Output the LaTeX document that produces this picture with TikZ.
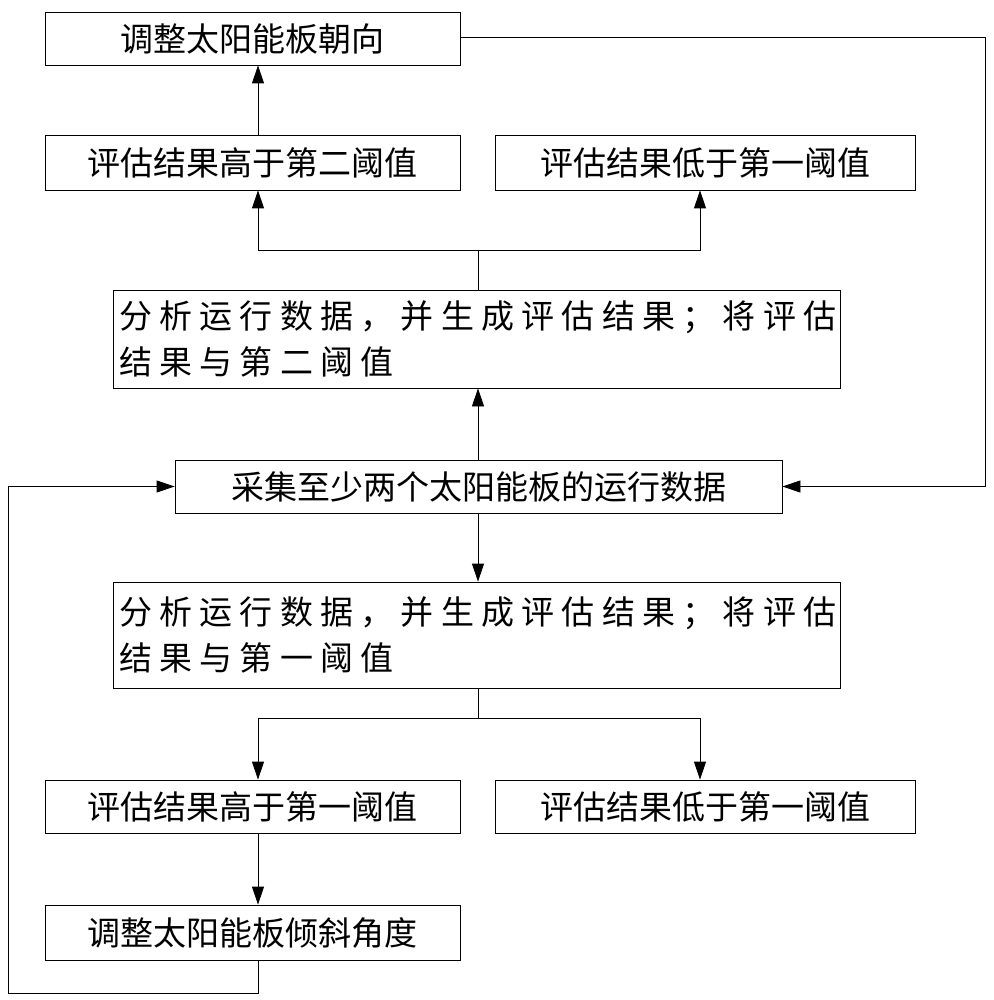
\documentclass[tikz,border=0pt]{standalone}
\usepackage{fontspec}
\newfontfamily\cjk{Noto Sans CJK SC}
\newfontfamily\cjkwide[LetterSpace=22]{Noto Sans CJK SC}
\usetikzlibrary{arrows.meta}
\tikzset{
  box/.style={draw, thick, rectangle, inner sep=4pt, font=\cjk\fontsize{33}{46}\selectfont},
  widebox/.style={box, font=\cjkwide\fontsize{33}{46}\selectfont, text width=715, align=left},
  flow/.style={thick, -{Triangle[length=18pt,width=12pt]}}
}
\begin{document}
\begin{tikzpicture}[x=1pt,y=-1pt]
\useasboundingbox (0,0) rectangle (993,1000);

% Boxes
\node[box, minimum width=415, minimum height=53] (turn) at (252.5,38.5) {调整太阳能板朝向\hspace{50pt}};
\node[box, minimum width=415, minimum height=55] (hi2) at (252.5,162.5) {评估结果高于第二阈值};
\node[box, minimum width=420, minimum height=55] (lo1a) at (705,162.5) {评估结果低于第一阈值};
\node[widebox, minimum width=727, minimum height=98] (ana2) at (476.5,339) {分析运行数据，并生成评估结果；将评估\\结果与第二阈值};
\node[box, minimum width=607, minimum height=53] (collect) at (478.5,486.5) {采集至少两个太阳能板的运行数据};
\node[widebox, minimum width=727, minimum height=106] (ana1) at (476.5,635) {分析运行数据，并生成评估结果；将评估\\结果与第一阈值};
\node[box, minimum width=415, minimum height=53] (hi1) at (252.5,806.5) {评估结果高于第一阈值};
\node[box, minimum width=420, minimum height=53] (lo1b) at (705,806.5) {评估结果低于第一阈值};
\node[box, minimum width=415, minimum height=55] (tilt) at (252.5,932.5) {调整太阳能板倾斜角度};

% Upper branch
\coordinate (up) at (478,250);
\draw[thick] (ana2.north -| up) -- (up);
\draw[flow] (up) -| (hi2.south -| 258,0);
\draw[flow] (up) -| (lo1a.south -| 700,0);
\draw[flow] (hi2.north -| 258,0) -- (turn.south -| 258,0);
\draw[flow] (collect.north -| 478,0) -- (ana2.south -| 478,0);

% Feedback from orientation
\coordinate (rt) at (985,37);
\draw[flow] (turn.east |- rt) -- (rt) |- (collect.east);

% Lower branch
\draw[flow] (collect.south -| 478,0) -- (ana1.north -| 478,0);
\coordinate (dn) at (478,718);
\draw[thick] (ana1.south -| dn) -- (dn);
\draw[flow] (dn) -| (hi1.north -| 258,0);
\draw[flow] (dn) -| (lo1b.north -| 700,0);
\draw[flow] (hi1.south -| 258,0) -- (tilt.north -| 258,0);

% Feedback from tilt
\coordinate (lb) at (8,993);
\draw[flow] (tilt.south -| 258,0) |- (lb) |- (collect.west);
\end{tikzpicture}
\end{document}
